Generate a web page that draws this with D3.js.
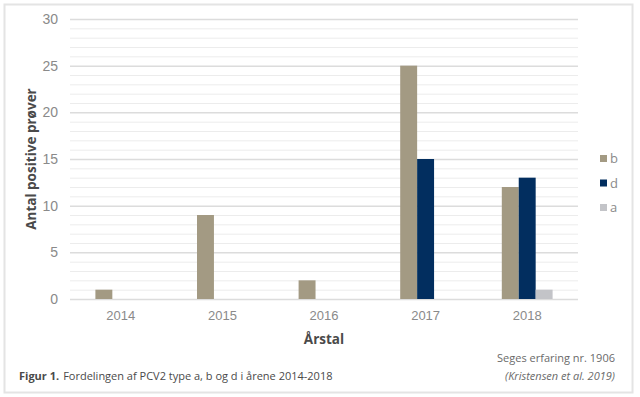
<!DOCTYPE html>
<html>
<head>
<meta charset="utf-8">
<script src="https://cdn.jsdelivr.net/npm/d3@7"></script>
<style>
  body { margin: 0; background: #fff; }
  svg { display: block; font-family: "Open Sans", "Noto Sans", sans-serif; }
</style>
</head>
<body>
<div id="chart"></div>
<script>
const years = ["2014", "2015", "2016", "2017", "2018"];
const types = ["b", "d", "a"];
const valuesB = [1, 9, 2, 25, 12];
const valuesD = [0, 0, 0, 15, 13];
const valuesA = [0, 0, 0, 0, 1];
const yTicks = [0, 5, 10, 15, 20, 25, 30];
const colors = { b: "#a39a83", d: "#022e5f", a: "#c3c4c8" };

const data = years.map((y, i) => ({ year: y, b: valuesB[i], d: valuesD[i], a: valuesA[i] }));

const W = 640, H = 397;
const margin = { top: 19, right: 62, bottom: 98, left: 70 };
const width = W - margin.left - margin.right;
const height = H - margin.top - margin.bottom;

const svg = d3.select("#chart").append("svg")
  .attr("width", W).attr("height", H);

// outer frame
svg.append("rect")
  .attr("x", 4.5).attr("y", 4.5)
  .attr("width", 628).attr("height", 388)
  .attr("fill", "#fff").attr("stroke", "#e4e4e4").attr("stroke-width", 2);

const g = svg.append("g").attr("transform", `translate(${margin.left},${margin.top})`);

const x = d3.scaleBand().domain(years).range([0, width]);
const x1 = d3.scaleBand().domain(types).range([x.bandwidth() * 0.25, x.bandwidth() * 0.75]);
const y = d3.scaleLinear().domain([0, 30]).range([height, 0]);

// minor grid
g.append("g").selectAll("line")
  .data(d3.range(0, 31).filter(v => v % 5 !== 0))
  .join("line")
  .attr("x1", 0).attr("x2", width)
  .attr("y1", d => y(d) + 0.5).attr("y2", d => y(d) + 0.5)
  .attr("stroke", "#ececec");

// major grid + y labels
const yAxis = d3.axisLeft(y).tickValues(yTicks).tickSize(-width).tickPadding(12);
g.append("g").call(yAxis)
  .call(s => s.select(".domain").remove())
  .call(s => s.selectAll("line").attr("stroke", "#dcdcdc").attr("stroke-width", 1.5))
  .call(s => s.selectAll("text").attr("fill", "#8a8a8a").style("font-size", "14px"));

// bars
g.append("g").selectAll("g")
  .data(data)
  .join("g")
  .attr("transform", d => `translate(${x(d.year)},0)`)
  .selectAll("rect")
  .data(d => types.map(t => ({ key: t, value: d[t] })).filter(e => e.value > 0))
  .join("rect")
  .attr("x", d => x1(d.key))
  .attr("width", x1.bandwidth())
  .attr("y", d => y(d.value))
  .attr("height", d => y(0) - y(d.value))
  .attr("fill", d => colors[d.key]);

// x axis
const xAxis = d3.axisBottom(x).tickSize(0).tickPadding(12);
g.append("g").attr("transform", `translate(0,${height})`).call(xAxis)
  .call(s => s.select(".domain").remove())
  .call(s => s.selectAll("text").attr("fill", "#8a8a8a").style("font-size", "13px"));

// axis titles
svg.append("text")
  .attr("transform", `translate(36,${margin.top + height / 2}) rotate(-90)`)
  .attr("text-anchor", "middle")
  .attr("fill", "#4a4a4a").attr("font-weight", "bold").style("font-size", "13.5px")
  .text("Antal positive prøver");

svg.append("text")
  .attr("x", margin.left + width / 2).attr("y", 344)
  .attr("text-anchor", "middle")
  .attr("fill", "#4a4a4a").attr("font-weight", "bold").style("font-size", "13.5px")
  .text("Årstal");

// legend
const legend = svg.append("g").attr("transform", "translate(600,154)");
legend.selectAll("g")
  .data(types)
  .join("g")
  .attr("transform", (d, i) => `translate(0,${i * 24.5})`)
  .call(s => s.append("rect").attr("width", 7).attr("height", 7).attr("y", 1)
    .attr("fill", d => colors[d]))
  .call(s => s.append("text").attr("x", 10).attr("y", 9)
    .attr("fill", "#8a8a8a").style("font-size", "13px").text(d => d));

// caption
const cap = svg.append("text").attr("x", 19).attr("y", 380)
  .attr("fill", "#4a4a4a").style("font-size", "11px");
cap.append("tspan").attr("font-weight", "bold").text("Figur 1.");
cap.append("tspan").attr("dx", 4).text("Fordelingen af PCV2 type a, b og d i årene 2014-2018");

svg.append("text").attr("x", 615).attr("y", 362).attr("text-anchor", "end")
  .attr("fill", "#6a6a6a").style("font-size", "11px")
  .text("Seges erfaring nr. 1906");
svg.append("text").attr("x", 615).attr("y", 380).attr("text-anchor", "end")
  .attr("fill", "#6a6a6a").style("font-size", "11px").style("font-style", "italic")
  .text("(Kristensen et al. 2019)");
</script>
</body>
</html>
